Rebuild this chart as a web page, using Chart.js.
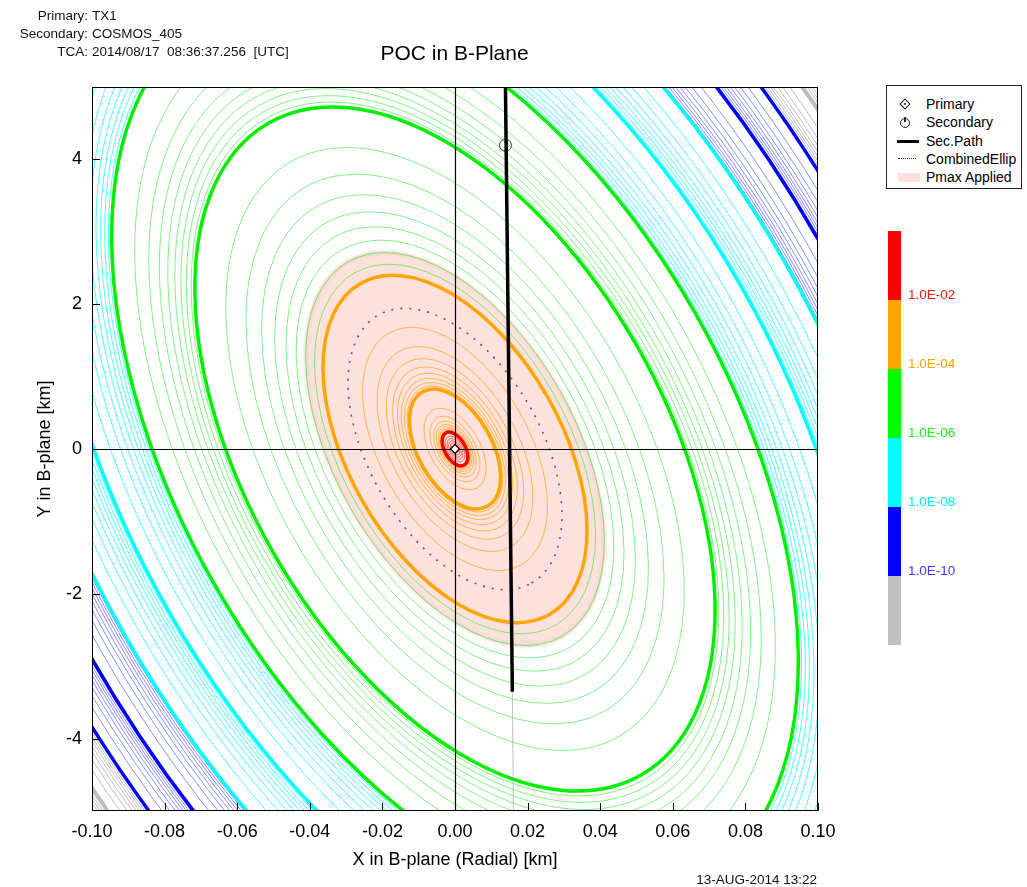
<!DOCTYPE html>
<html>
<head>
<meta charset="utf-8">
<script src="https://cdn.jsdelivr.net/npm/chart.js@4.4.1/dist/chart.umd.min.js"></script>
<style>
html,body{margin:0;padding:0;background:#fff;}
#wrap{position:relative;width:1027px;height:887px;overflow:hidden;font-family:"Liberation Sans",Arial,sans-serif;color:#000;}
#c{position:absolute;left:0;top:0;}
.t{position:absolute;white-space:nowrap;line-height:1;transform:translateY(-50%);}
.r{text-align:right;transform:translate(-100%,-50%);}
#legend{position:absolute;left:886px;top:85px;width:136px;height:104px;border:1px solid #222;box-sizing:border-box;background:#fff;}
.sym{position:absolute;}
</style>
</head>
<body>
<div id="wrap">
<canvas id="c" width="1027" height="887"></canvas>
</div>
<script>
// ---------------- data ----------------
const headerLabels = ["Primary:", "Secondary:", "TCA:"];
const headerValues = ["TX1", "COSMOS_405", "2014/08/17  08:36:37.256  [UTC]"];
const chartTitle = "POC in B-Plane";
const xTitle = "X in B-plane (Radial) [km]";
const yTitle = "Y in B-plane [km]";
const dateStamp = "13-AUG-2014 13:22";
const xTicks = [-0.10, -0.08, -0.06, -0.04, -0.02, 0.00, 0.02, 0.04, 0.06, 0.08, 0.10];
const yTicks = [-4, -2, 0, 2, 4];
const xRange = [-0.1, 0.1];
const yRange = [-5, 5];

// contour ellipses: centre and conjugate semi-diameters (km) of the unit ellipse
const ellipseCenter = [0, 0];
const ellipseAxisU = [0.02603, -2.286];
const ellipseAxisV = [0.02541, 0.726];

// contour scale factors, grouped by colour band
const redThick = [0.097];
const redThin = [0.025, 0.036, 0.048, 0.060, 0.075];
const orangeThick = [0.345, 1.0];
const orangeThin = [0.102, 0.109, 0.118, 0.129, 0.142, 0.161, 0.189, 0.235,
                    0.363, 0.383, 0.407, 0.436, 0.472, 0.52, 0.59, 0.70];
const greenThick = [1.97, 2.60];
const greenThin = [1.064, 1.131, 1.203, 1.280, 1.366, 1.465, 1.583, 1.736,
                   1.998, 2.035, 2.076, 2.122, 2.175, 2.239, 2.319, 2.426];
const cyanThick = [3.10, 3.57];
const cyanThin = [2.625, 2.653, 2.684, 2.719, 2.760, 2.810, 2.872, 2.958,
                  3.123, 3.149, 3.178, 3.210, 3.248, 3.295, 3.354, 3.435];
const blueThick = [3.95, 4.28];
const blueThin = [3.588, 3.608, 3.631, 3.657, 3.688, 3.725, 3.773, 3.839,
                  3.965, 3.983, 4.003, 4.025, 4.052, 4.084, 4.126, 4.183];
const grayThick = [4.59];
const grayThin = [4.295, 4.311, 4.330, 4.351, 4.376, 4.406, 4.445, 4.499,
                  4.61, 4.63, 4.65, 4.67, 4.70, 4.74];
const combinedEllipScale = 0.81;
const pmaxScale = 1.14;

// secondary path and objects
const secPath = [{x: 0.0139, y: 5.0}, {x: 0.0158, y: -3.354}];
const secPathTail = [{x: 0.0158, y: -3.354}, {x: 0.0161, y: -5.0}];
const secondaryPos = [{x: 0.0139, y: 4.196}];
const primaryPos = [{x: 0.0, y: 0.0}];

// colour bar
const cbarColors = ["#ff0000", "#ffa500", "#00ff00", "#00ffff", "#0000ff", "#c0c0c0"];
const cbarLabels = ["1.0E-02", "1.0E-04", "1.0E-06", "1.0E-08", "1.0E-10"];
const cbarLabelColors = ["#ff1010", "#ffa500", "#22ee22", "#00f0f0", "#3a3aff"];

const legendItems = ["Primary", "Secondary", "Sec.Path", "CombinedEllip", "Pmax Applied"];

// ---------------- styles ----------------
const FONT = '"Liberation Sans", Arial, sans-serif';
const bands = [
  {thin: grayThin,   thick: grayThick,   thinColor: "rgba(170,170,170,0.75)", thickColor: "#bdbdbd"},
  {thin: blueThin,   thick: blueThick,   thinColor: "rgba(0,0,255,0.45)",     thickColor: "#0000ff"},
  {thin: cyanThin,   thick: cyanThick,   thinColor: "rgba(0,255,255,0.7)",    thickColor: "#00ffff"},
  {thin: greenThin,  thick: greenThick,  thinColor: "rgba(0,235,0,0.5)",      thickColor: "#00ee00"},
  {thin: orangeThin, thick: orangeThick, thinColor: "rgba(255,160,0,0.65)",   thickColor: "#ffa500"},
  {thin: redThin,    thick: redThick,    thinColor: "rgba(255,60,60,0.75)",   thickColor: "#ff0000"}
];

// ---------------- HTML text ----------------
const wrap = document.getElementById("wrap");
function addText(txt, x, y, size, cls, color, extra) {
  const d = document.createElement("div");
  d.className = "t" + (cls ? " " + cls : "");
  d.textContent = txt;
  d.style.left = x + "px"; d.style.top = y + "px";
  d.style.fontSize = size + "px";
  if (color) d.style.color = color;
  if (extra) Object.assign(d.style, extra);
  wrap.appendChild(d);
  return d;
}
headerLabels.forEach((l, i) => {
  addText(l, 88, 15.5 + i * 18.3, 13.5, "r", "#111");
  addText(headerValues[i], 92, 15.5 + i * 18.3, 13.5, "", "#111", {whiteSpace: "pre"});
});
addText(chartTitle, 454.5, 52, 21, "", "#000", {transform: "translate(-50%,-50%)"});
addText(dateStamp, 817, 880, 13.5, "r", "#111");

// legend
const lg = document.createElement("div"); lg.id = "legend"; wrap.appendChild(lg);
legendItems.forEach((t, i) => {
  addText(t, 926, 104 + i * 18.3, 14, "", "#000");
});
function addSym(style) { const d = document.createElement("div"); d.className = "sym"; Object.assign(d.style, style); wrap.appendChild(d); return d; }
addSym({left: "901px", top: "100px", width: "6px", height: "6px", border: "1.3px solid #222", transform: "rotate(45deg)", background: "#fff"});
addSym({left: "903.5px", top: "102.5px", width: "2px", height: "2px", background: "#555"});
addSym({left: "900px", top: "117.5px", width: "8px", height: "8px", border: "1.3px solid #222", borderRadius: "50%"});
addSym({left: "904.3px", top: "116.5px", width: "1.3px", height: "5px", background: "#222"});
addSym({left: "897px", top: "140px", width: "22px", height: "3px", background: "#000"});
addSym({left: "898px", top: "158px", width: "18px", height: "0px", borderTop: "1.5px dotted #333"});
addSym({left: "898px", top: "172.5px", width: "22px", height: "9.5px", background: "#fde0dc"});

// colour bar
cbarColors.forEach((c, i) => {
  addSym({left: "888px", top: (231 + i * 69) + "px", width: "13px", height: "69px", background: c});
});
cbarLabels.forEach((t, i) => {
  addText(t, 908, 295 + i * 69, 13.5, "", cbarLabelColors[i]);
});

// ---------------- chart ----------------
const contourPlugin = {
  id: "contours",
  beforeDatasetsDraw(chart) {
    const {ctx, chartArea: a, scales: {x, y}} = chart;
    const cx = x.getPixelForValue(ellipseCenter[0]), cy = y.getPixelForValue(ellipseCenter[1]);
    const ux = x.getPixelForValue(ellipseCenter[0] + ellipseAxisU[0]) - cx;
    const uy = y.getPixelForValue(ellipseCenter[1] + ellipseAxisU[1]) - cy;
    const vx = x.getPixelForValue(ellipseCenter[0] + ellipseAxisV[0]) - cx;
    const vy = y.getPixelForValue(ellipseCenter[1] + ellipseAxisV[1]) - cy;
    function path(s) {
      ctx.save();
      ctx.translate(cx, cy);
      ctx.transform(ux * s, uy * s, vx * s, vy * s, 0, 0);
      ctx.beginPath();
      ctx.arc(0, 0, 1, 0, 2 * Math.PI);
      ctx.closePath();
      ctx.restore();
    }
    ctx.save();
    ctx.beginPath();
    ctx.rect(a.left, a.top, a.right - a.left, a.bottom - a.top);
    ctx.clip();
    // Pmax applied region
    path(pmaxScale);
    ctx.fillStyle = "#fde1dc";
    ctx.fill();
    path(pmaxScale - 0.008);
    ctx.lineWidth = 6;
    ctx.strokeStyle = "rgba(225,195,180,0.18)";
    ctx.stroke();
    // contour lines
    bands.forEach(b => {
      b.thin.forEach(s => { path(s); ctx.lineWidth = 1; ctx.strokeStyle = b.thinColor; ctx.stroke(); });
    });
    bands.forEach(b => {
      b.thick.forEach(s => { path(s); ctx.lineWidth = 3.5; ctx.strokeStyle = b.thickColor; ctx.stroke(); });
    });
    // combined ellipse
    path(combinedEllipScale);
    ctx.setLineDash([2, 7]);
    ctx.lineWidth = 1.6;
    ctx.strokeStyle = "rgba(70,70,70,0.85)";
    ctx.stroke();
    ctx.setLineDash([]);
    // zero lines
    const x0 = Math.round(x.getPixelForValue(0)) + 0.5;
    const y0 = Math.round(y.getPixelForValue(0)) + 0.5;
    ctx.beginPath();
    ctx.moveTo(x0, a.top); ctx.lineTo(x0, a.bottom);
    ctx.moveTo(a.left, y0); ctx.lineTo(a.right, y0);
    ctx.lineWidth = 1.2;
    ctx.strokeStyle = "#000";
    ctx.stroke();
    ctx.restore();
  },
  afterDraw(chart) {
    const {ctx, chartArea: a, scales: {x, y}} = chart;
    ctx.save();
    ctx.strokeStyle = "#000";
    ctx.lineWidth = 1;
    ctx.beginPath();
    xTicks.forEach(v => {
      const px = Math.round(x.getPixelForValue(v)) + 0.5;
      ctx.moveTo(px, a.bottom); ctx.lineTo(px, a.bottom - 8);
    });
    yTicks.forEach(v => {
      const py = Math.round(y.getPixelForValue(v)) + 0.5;
      ctx.moveTo(a.left, py); ctx.lineTo(a.left + 8, py);
    });
    ctx.stroke();
    ctx.strokeRect(Math.round(a.left) + 0.5, Math.round(a.top) + 0.5, Math.round(a.right - a.left) - 1, Math.round(a.bottom - a.top) - 1);
    ctx.restore();
  }
};

new Chart(document.getElementById("c"), {
  type: "scatter",
  data: {
    datasets: [
      {label: "Sec.Path tail", data: secPathTail, showLine: true, borderColor: "rgba(150,150,150,0.6)", borderWidth: 1, pointRadius: 0},
      {label: "Sec.Path", data: secPath, showLine: true, borderColor: "#000", borderWidth: 3.5, pointRadius: 0},
      {label: "Secondary", data: secondaryPos, pointStyle: "circle", pointRadius: 6, borderColor: "#444", borderWidth: 1, backgroundColor: "rgba(0,0,0,0)"},
      {label: "Primary", data: primaryPos, pointStyle: "rectRot", pointRadius: 4.5, borderColor: "#000", borderWidth: 1.2, backgroundColor: "#fff"}
    ]
  },
  options: {
    responsive: false,
    animation: false,
    events: [],
    layout: {padding: {left: 0, top: 87, right: 209, bottom: 0}},
    plugins: {legend: {display: false}, tooltip: {enabled: false}, title: {display: false}},
    scales: {
      x: {
        type: "linear", min: xRange[0], max: xRange[1],
        afterBuildTicks: s => { s.ticks = xTicks.map(v => ({value: v})); },
        afterFit: s => { s.height = 76; },
        grid: {display: false, drawTicks: false},
        border: {display: false},
        ticks: {callback: v => v.toFixed(2), font: {size: 18, family: FONT}, color: "#000", padding: 10, maxRotation: 0, autoSkip: false},
        title: {display: true, text: xTitle, font: {size: 18, family: FONT}, color: "#000", padding: {top: 0, bottom: 16}}
      },
      y: {
        type: "linear", min: yRange[0], max: yRange[1],
        afterBuildTicks: s => { s.ticks = yTicks.map(v => ({value: v})); },
        afterFit: s => { s.width = 92; },
        grid: {display: false, drawTicks: false},
        border: {display: false},
        ticks: {callback: v => String(v), font: {size: 18, family: FONT}, color: "#000", padding: 10, autoSkip: false},
        title: {display: true, text: yTitle, font: {size: 18, family: FONT}, color: "#000", padding: {top: 34, bottom: 0}}
      }
    }
  },
  plugins: [contourPlugin]
});
</script>
</body>
</html>
